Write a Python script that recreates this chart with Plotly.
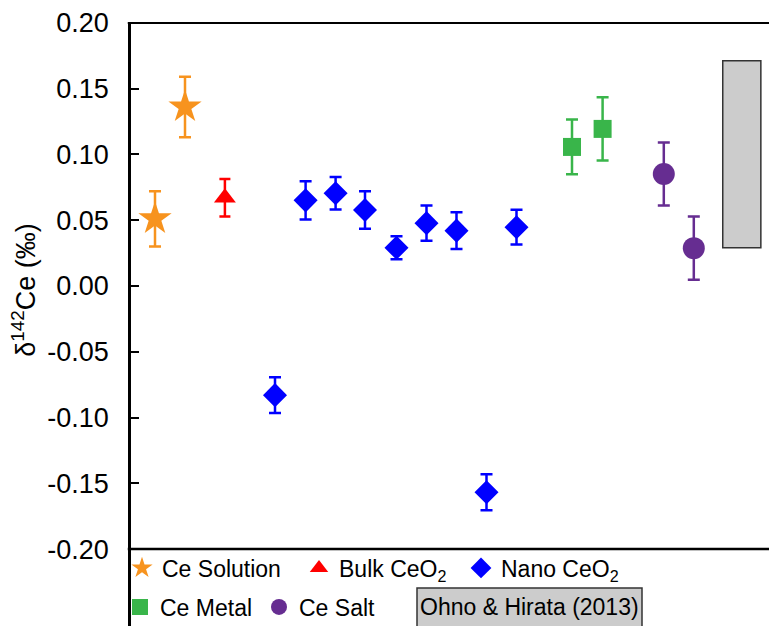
import plotly.graph_objects as go

# ---- data (x = sample position along the unlabeled horizontal axis) ----
solution_x = [0, 1]
solution_y = [0.051, 0.136]
solution_err = [0.021, 0.023]

bulk_x = [2.33]
bulk_y = [0.067]
bulk_err = [0.0143]

nano_x = [4, 5.02, 6.02, 7, 8.05, 9.05, 10.05, 11.05, 12.05]
nano_y = [-0.083, 0.065, 0.0704, 0.0577, 0.029, 0.0477, 0.042, -0.1568, 0.0446]
nano_err = [0.0135, 0.0146, 0.0124, 0.0142, 0.0088, 0.0133, 0.014, 0.0137, 0.0132]

metal_x = [13.9, 14.92]
metal_y = [0.1056, 0.1193]
metal_err = [0.0208, 0.024]

salt_x = [16.96, 17.96]
salt_y = [0.085, 0.0287]
salt_err = [0.024, 0.024]

ohno_x = [19.56]
ohno_low = [0.029]
ohno_high = [0.171]

tick_vals = [0.20, 0.15, 0.10, 0.05, 0.00, -0.05, -0.10, -0.15, -0.20]
tick_text = ["0.20", "0.15", "0.10", "0.05", "0.00", "-0.05", "-0.10", "-0.15", "-0.20"]

ORANGE = "#F7931E"
RED = "#FF0000"
BLUE = "#0000FF"
GREEN = "#39B54A"
PURPLE = "#662D91"

ARIAL = "Liberation Sans, Arial, sans-serif"

OFF = 8  # page body margin
W, H = 777 - OFF, 626 - OFF
ML, MR, MT, MB = 131 - OFF, 0, 22 - OFF, 0
PW = W - ML - MR
PHt = H - MT - MB

fig = go.Figure()

fig.add_trace(go.Bar(
    x=ohno_x, base=ohno_low, y=[h - l for h, l in zip(ohno_high, ohno_low)],
    width=1.27, marker=dict(color="#CCCCCC", line=dict(color="#333333", width=1.5)),
    showlegend=False, hoverinfo="skip"))

def err(arr, color, w=6):
    return dict(type="data", array=arr, visible=True, color=color, thickness=2.5, width=w)

fig.add_trace(go.Scatter(x=solution_x, y=solution_y, mode="markers", name="Ce Solution",
                         marker=dict(symbol="star", size=25, color=ORANGE),
                         error_y=err(solution_err, ORANGE), legend="legend"))
fig.add_trace(go.Scatter(x=bulk_x, y=bulk_y, mode="markers", name="Bulk CeO<sub>2</sub>",
                         marker=dict(symbol="triangle-up", size=19, color=RED),
                         error_y=err(bulk_err, RED, 5.5), legend="legend2"))
fig.add_trace(go.Scatter(x=nano_x, y=nano_y, mode="markers", name="Nano CeO<sub>2</sub>",
                         marker=dict(symbol="diamond", size=18.5, color=BLUE),
                         error_y=err(nano_err, BLUE), legend="legend3"))
fig.add_trace(go.Scatter(x=metal_x, y=metal_y, mode="markers", name="Ce Metal",
                         marker=dict(symbol="square", size=18, color=GREEN),
                         error_y=err(metal_err, GREEN), legend="legend4"))
fig.add_trace(go.Scatter(x=salt_x, y=salt_y, mode="markers", name="Ce Salt",
                         marker=dict(symbol="circle", size=22, color=PURPLE),
                         error_y=err(salt_err, PURPLE), legend="legend5"))

x0 = (131 - 155) / 30.0
x1 = x0 + PW / 30.0
ytop = 0.20 + 0.7 / 1316.0
ybot = ytop - PHt / 1316.0

def px_x(p):
    return (p - OFF - ML) / PW

def px_y(p):
    return (H - MB - (p - OFF)) / PHt

legfont = dict(family=ARIAL, size=23, color="black")

def leg(cx, cy):
    return dict(x=px_x(cx - 21), y=px_y(cy), xanchor="left", yanchor="middle",
                bgcolor="rgba(0,0,0,0)", borderwidth=0, font=legfont,
                orientation="v", itemclick=False, itemdoubleclick=False)

fig.update_layout(
    width=W, height=H,
    margin=dict(l=ML, r=MR, t=MT, b=MB, pad=0, autoexpand=False),
    plot_bgcolor="white", paper_bgcolor="white",
    barmode="overlay",
    xaxis=dict(range=[x0, x1], visible=False, fixedrange=True),
    yaxis=dict(range=[ybot, ytop], showgrid=False, zeroline=False,
               showline=True, linecolor="black", linewidth=2.5,
               ticks="inside", ticklen=8, tickwidth=2, tickcolor="black",
               tickvals=tick_vals, ticktext=tick_text,
               tickfont=dict(family=ARIAL, size=27, color="black"),
               ticklabelstandoff=14, fixedrange=True),
    legend=leg(143, 568),
    legend2=leg(320, 568),
    legend3=leg(482, 568),
    legend4=leg(141, 607),
    legend5=leg(280, 607),
    shapes=[
        dict(type="line", xref="paper", yref="y", x0=-0.005, x1=1, y0=0.20, y1=0.20,
             line=dict(color="black", width=2.5)),
        dict(type="line", xref="paper", yref="y", x0=-0.005, x1=1, y0=-0.20, y1=-0.20,
             line=dict(color="black", width=2.5)),
        dict(type="rect", xref="paper", yref="paper",
             x0=px_x(417), x1=px_x(642), y0=px_y(632), y1=px_y(588),
             fillcolor="#CCCCCC", line=dict(color="#333333", width=1.5), layer="below"),
    ],
    annotations=[
        dict(text="δ<sup>142</sup>Ce (‰)", textangle=-90, xref="paper", yref="y",
             x=px_x(24), y=-0.003, xanchor="center", yanchor="middle", showarrow=False,
             font=dict(family=ARIAL, size=27, color="black")),
        dict(text="Ohno & Hirata (2013)", xref="paper", yref="paper",
             x=px_x(529.5), y=px_y(607), xanchor="center", yanchor="middle", showarrow=False,
             font=dict(family=ARIAL, size=23, color="black")),
    ],
)

fig.write_html("out.html", config=dict(displayModeBar=False))
